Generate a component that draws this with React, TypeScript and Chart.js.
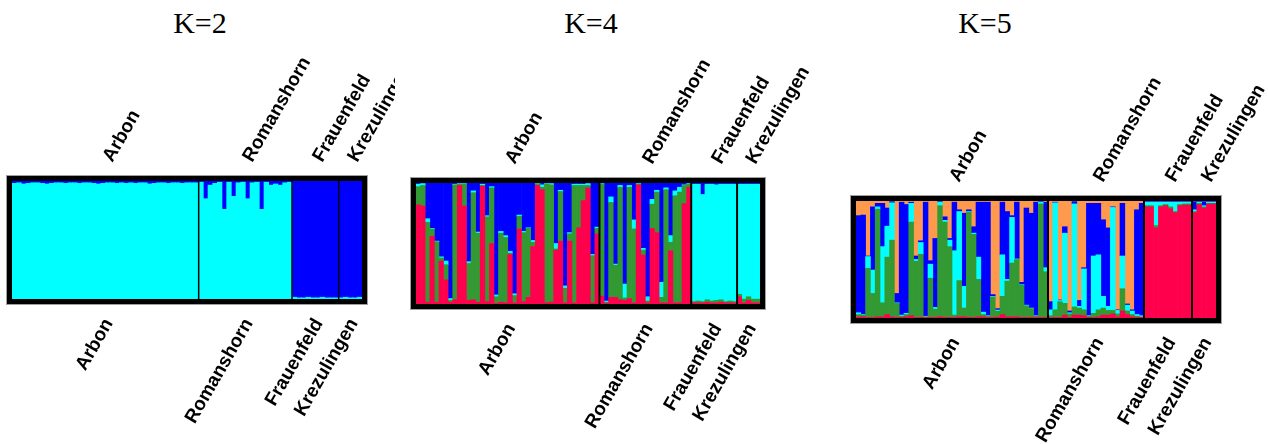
import React, { useEffect, useRef } from "react";
import { Chart, registerables } from "chart.js";

Chart.register(...registerables);

// ---------- populations ----------
const populations = ["Arbon", "Romanshorn", "Frauenfeld", "Krezulingen"];
const populationSizes = [40, 20, 10, 5];
const kTitles = ["K=2", "K=4", "K=5"];

// ---------- K=2 (bottom -> top: cyan, blue) ----------
const k2Cyan = [
  0.98, 0.985, 0.975, 0.98, 0.985, 0.985, 0.98, 0.975, 0.98, 0.985,
  0.985, 0.98, 0.985, 0.985, 0.98, 0.985, 0.985, 0.98, 0.975, 0.98,
  0.985, 0.985, 0.98, 0.985, 0.98, 0.985, 0.98, 0.985, 0.985, 0.975,
  0.98, 0.985, 0.985, 0.98, 0.985, 0.985, 0.98, 0.985, 0.985, 0.985,
  0.99, 0.85, 0.965, 0.98, 0.99, 0.76, 0.99, 0.87, 0.985, 0.99,
  0.85, 0.985, 0.99, 0.76, 0.99, 0.965, 0.975, 0.965, 0.985, 0.99,
  0.015, 0.01, 0.01, 0.015, 0.01, 0.01, 0.015, 0.01, 0.01, 0.01,
  0.01, 0.015, 0.01, 0.01, 0.015,
];
const k2Blue = [
  0.02, 0.015, 0.025, 0.02, 0.015, 0.015, 0.02, 0.025, 0.02, 0.015,
  0.015, 0.02, 0.015, 0.015, 0.02, 0.015, 0.015, 0.02, 0.025, 0.02,
  0.015, 0.015, 0.02, 0.015, 0.02, 0.015, 0.02, 0.015, 0.015, 0.025,
  0.02, 0.015, 0.015, 0.02, 0.015, 0.015, 0.02, 0.015, 0.015, 0.015,
  0.01, 0.15, 0.035, 0.02, 0.01, 0.24, 0.01, 0.13, 0.015, 0.01,
  0.15, 0.015, 0.01, 0.24, 0.01, 0.035, 0.025, 0.035, 0.015, 0.01,
  0.985, 0.99, 0.99, 0.985, 0.99, 0.99, 0.985, 0.99, 0.99, 0.99,
  0.99, 0.985, 0.99, 0.99, 0.985,
];

// ---------- K=4 (bottom -> top: red, green, cyan, blue) ----------
const k4Red = [
  0.82, 0.81, 0.015, 0.56, 0.015, 0.355, 0.2, 0.015, 0.035, 0.98,
  0.81, 0.03, 0.035, 0.015, 0.975, 0.02, 0.5, 0.005, 0.015, 0.01,
  0.41, 0.01, 0.62, 0.02, 0.055, 0.475, 0.98, 0.945, 0.01, 0.015,
  0.445, 0.52, 0.01, 0.52, 0.01, 0.63, 0.855, 0.96, 0.01, 0.58,
  0.065, 0.005, 0.055, 0.055, 0.035, 0.03, 0.045, 0.01, 0.985, 0.405,
  0.01, 0.625, 0.59, 0.01, 0.01, 0.44, 0.01, 0.01, 0.83, 0.965,
  0.01, 0.01, 0.01, 0.015, 0.01, 0.01, 0.015, 0.01, 0.01, 0.01,
  0.06, 0.01, 0.03, 0.01, 0.01,
];
const k4Green = [
  0.15, 0.17, 0.66, 0.06, 0.5, 0.025, 0.125, 0.015, 0.95, 0.01,
  0.18, 0.305, 0.885, 0.57, 0.005, 0.7, 0.46, 0.055, 0.57, 0.54,
  0.01, 0.06, 0.105, 0.57, 0.57, 0.035, 0.015, 0.02, 0.98, 0.97,
  0.01, 0.41, 0.12, 0.06, 0.97, 0.35, 0.125, 0.02, 0.39, 0.045,
  0.925, 0.01, 0.785, 0.265, 0.93, 0.02, 0.92, 0.61, 0.005, 0.04,
  0.015, 0.2, 0.335, 0.045, 0.935, 0.07, 0.885, 0.915, 0.15, 0.025,
  0.01, 0.015, 0.01, 0.02, 0.015, 0.02, 0.02, 0.01, 0.015, 0.01,
  0.02, 0.03, 0.03, 0.03, 0.03,
];
const k4Cyan = [
  0.02, 0.015, 0.03, 0.005, 0.005, 0.01, 0.03, 0.015, 0.005, 0.005,
  0.005, 0.015, 0.015, 0.01, 0.01, 0.01, 0.01, 0.015, 0.015, 0.015,
  0.015, 0.015, 0.01, 0.01, 0.005, 0.015, 0.003, 0.02, 0.005, 0.01,
  0.045, 0.01, 0.02, 0.01, 0.01, 0.01, 0.01, 0.015, 0.01, 0.01,
  0.005, 0.01, 0.045, 0.01, 0.015, 0.115, 0.015, 0.075, 0.005, 0.015,
  0.035, 0.04, 0.015, 0.125, 0.015, 0.055, 0.04, 0.04, 0.005, 0.005,
  0.97, 0.965, 0.885, 0.955, 0.965, 0.955, 0.955, 0.97, 0.965, 0.97,
  0.91, 0.95, 0.93, 0.95, 0.95,
];
const k4Blue = [
  0.01, 0.005, 0.295, 0.375, 0.48, 0.61, 0.645, 0.955, 0.01, 0.005,
  0.005, 0.65, 0.065, 0.405, 0.01, 0.27, 0.03, 0.925, 0.4, 0.435,
  0.565, 0.915, 0.265, 0.4, 0.37, 0.475, 0.002, 0.015, 0.005, 0.005,
  0.5, 0.06, 0.85, 0.41, 0.01, 0.01, 0.01, 0.005, 0.59, 0.365,
  0.005, 0.975, 0.115, 0.67, 0.02, 0.835, 0.02, 0.305, 0.005, 0.54,
  0.94, 0.135, 0.06, 0.82, 0.04, 0.435, 0.065, 0.035, 0.015, 0.005,
  0.01, 0.01, 0.095, 0.01, 0.01, 0.015, 0.01, 0.01, 0.01, 0.01,
  0.01, 0.01, 0.01, 0.01, 0.01,
];

// ---------- K=5 (bottom -> top: red, green, cyan, blue, orange) ----------
const k5Red = [
  0.01, 0.01, 0.005, 0.005, 0.01, 0.01, 0.03, 0.01, 0.005, 0.005,
  0.01, 0.02, 0.005, 0.005, 0.005, 0.005, 0.005, 0.01, 0.005, 0.005,
  0.005, 0.01, 0.01, 0.005, 0.005, 0.01, 0.01, 0.005, 0.005, 0.008,
  0.03, 0.01, 0.01, 0.01, 0.005, 0.005, 0.005, 0.005, 0.005, 0.005,
  0.005, 0.005, 0.005, 0.025, 0.005, 0.025, 0.025, 0.02, 0.005, 0.005,
  0.01, 0.025, 0.025, 0.035, 0.01, 0.06, 0.03, 0.01, 0.005, 0.005,
  0.95, 0.95, 0.77, 0.95, 0.96, 0.935, 0.9, 0.96, 0.965, 0.965,
  0.9, 0.97, 0.94, 0.975, 0.975,
];
const k5Green = [
  0.02, 0.015, 0.42, 0.205, 0.92, 0.12, 0.49, 0.655, 0.12, 0.01,
  0.02, 0.8, 0.48, 0.54, 0.005, 0.335, 0.07, 0.95, 0.815, 0.605,
  0.02, 0.31, 0.075, 0.9, 0.71, 0.32, 0.02, 0.01, 0.175, 0.05,
  0.155, 0.305, 0.46, 0.49, 0.275, 0.1, 0.075, 0.01, 0.97, 0.39,
  0.015, 0.065, 0.135, 0.1, 0.03, 0.07, 0.06, 0.05, 0.01, 0.035,
  0.06, 0.06, 0.04, 0.03, 0.025, 0.19, 0.03, 0.02, 0.01, 0.005,
  0.01, 0.01, 0.02, 0.01, 0.01, 0.015, 0.01, 0.01, 0.01, 0.01,
  0.01, 0.01, 0.01, 0.005, 0.005,
];
const k5Cyan = [
  0.015, 0.005, 0.1, 0.2, 0.02, 0.48, 0.265, 0.32, 0.005, 0.01,
  0.01, 0.16, 0.015, 0.1, 0.005, 0.12, 0.015, 0.03, 0.015, 0.055,
  0.55, 0.59, 0.185, 0.005, 0.01, 0.19, 0.02, 0.005, 0.005, 0.01,
  0.355, 0.015, 0.39, 0.005, 0.005, 0.005, 0.005, 0.005, 0.015, 0.035,
  0.05, 0.915, 0.01, 0.6, 0.01, 0.88, 0.015, 0.35, 0.005, 0.49,
  0.47, 0.1, 0.035, 0.88, 0.03, 0.28, 0.05, 0.03, 0.015, 0.01,
  0.03, 0.03, 0.2, 0.03, 0.02, 0.04, 0.08, 0.02, 0.015, 0.015,
  0.015, 0.01, 0.01, 0.01, 0.01,
];
const k5Blue = [
  0.83, 0.85, 0.005, 0.54, 0.03, 0.37, 0.155, 0.01, 0.08, 0.965,
  0.93, 0.01, 0.03, 0.015, 0.975, 0.03, 0.59, 0.005, 0.03, 0.015,
  0.415, 0.015, 0.625, 0.015, 0.055, 0.47, 0.94, 0.97, 0.015, 0.012,
  0.45, 0.58, 0.015, 0.485, 0.02, 0.83, 0.81, 0.97, 0.005, 0.56,
  0.07, 0.005, 0.005, 0.055, 0.015, 0.02, 0.05, 0.01, 0.96, 0.45,
  0.44, 0.655, 0.67, 0.005, 0.005, 0.45, 0.01, 0.01, 0.895, 0.96,
  0.005, 0.005, 0.005, 0.005, 0.005, 0.005, 0.005, 0.005, 0.005, 0.005,
  0.07, 0.005, 0.035, 0.005, 0.005,
];
const k5Orange = [
  0.125, 0.12, 0.47, 0.05, 0.02, 0.02, 0.06, 0.005, 0.79, 0.01,
  0.03, 0.01, 0.47, 0.34, 0.01, 0.51, 0.32, 0.005, 0.135, 0.32,
  0.01, 0.075, 0.105, 0.075, 0.22, 0.01, 0.01, 0.01, 0.8, 0.92,
  0.01, 0.09, 0.125, 0.01, 0.695, 0.06, 0.105, 0.01, 0.005, 0.01,
  0.86, 0.01, 0.85, 0.22, 0.94, 0.005, 0.85, 0.57, 0.02, 0.02,
  0.02, 0.16, 0.23, 0.05, 0.93, 0.02, 0.88, 0.93, 0.075, 0.02,
  0.005, 0.005, 0.005, 0.005, 0.005, 0.005, 0.005, 0.005, 0.005, 0.005,
  0.005, 0.005, 0.005, 0.005, 0.005,
];

// ---------- derived helpers ----------
const N = populationSizes.reduce((a, b) => a + b, 0);
const individuals = Array.from({ length: N }, (_, i) => String(i + 1));
const popStarts = populationSizes.map((_, i) =>
  populationSizes.slice(0, i).reduce((a, b) => a + b, 0)
);

const CYAN = "#00ffff";
const BLUE = "#0000ff";
const RED = "#ff004d";
const GREEN = "#339933";
const ORANGE = "#ff994d";

const LABEL_FONT = "bold 19px 'Liberation Sans', Arial, sans-serif";
const ROT = -Math.PI / 3;

// dividers between populations, frame and rotated population labels,
// all positioned through the bar chart's own x scale
const structurePlugin = {
  id: "structure",
  afterDatasetsDraw(chart: any, _args: any, opts: any) {
    const { ctx, chartArea: a } = chart;
    const x = chart.scales.x;
    ctx.save();
    ctx.strokeStyle = "#000";
    ctx.lineWidth = opts.dividerWidth;
    popStarts.slice(1).forEach((s) => {
      const px = (x.getPixelForValue(s - 1) + x.getPixelForValue(s)) / 2;
      ctx.beginPath();
      ctx.moveTo(px, a.top);
      ctx.lineTo(px, a.bottom);
      ctx.stroke();
    });
    ctx.restore();
  },
  afterDraw(chart: any) {
    const { ctx, chartArea: a } = chart;
    const x = chart.scales.x;
    ctx.save();
    ctx.strokeStyle = "#000";
    ctx.lineWidth = 5;
    ctx.strokeRect(a.left - 2.5, a.top - 2.5, a.right - a.left + 5, a.bottom - a.top + 5);
    ctx.strokeStyle = "#a0a0a0";
    ctx.lineWidth = 1;
    ctx.strokeRect(a.left - 5.5, a.top - 5.5, a.right - a.left + 11, a.bottom - a.top + 11);

    ctx.fillStyle = "#000";
    ctx.font = LABEL_FONT;
    ctx.textBaseline = "alphabetic";
    populations.forEach((name, i) => {
      const s = popStarts[i];
      const e = s + populationSizes[i] - 1;
      const cx = (x.getPixelForValue(s) + x.getPixelForValue(e)) / 2;
      // upper label, reading upward from its start
      ctx.save();
      ctx.translate(cx + 7, a.top - 18);
      ctx.rotate(ROT);
      ctx.textAlign = "left";
      ctx.fillText(name, 0, 0);
      ctx.restore();
      // lower label, ending just under the frame
      ctx.save();
      ctx.translate(cx + 8, a.bottom + 24);
      ctx.rotate(ROT);
      ctx.textAlign = "right";
      ctx.fillText(name, 0, 0);
      ctx.restore();
    });
    ctx.restore();
  },
};

type Series = { name: string; data: number[]; color: string };
type PanelProps = {
  left: number;
  top: number;
  width: number;
  height: number;
  padLeft: number;
  padRight: number;
  padTop: number;
  padBottom: number;
  series: Series[];
  dividerWidth: number;
};

function Panel(p: PanelProps) {
  const ref = useRef<HTMLCanvasElement>(null);
  useEffect(() => {
    if (!ref.current) return;
    const totals = individuals.map((_, i) =>
      p.series.reduce((s, d) => s + d.data[i], 0)
    );
    const chart = new Chart(ref.current, {
      type: "bar",
      data: {
        labels: individuals,
        datasets: p.series.map((s) => ({
          label: s.name,
          data: s.data.map((v, i) => v / totals[i]),
          backgroundColor: s.color,
          borderWidth: 0,
          barPercentage: 1,
          categoryPercentage: 1,
          stack: "q",
        })),
      },
      options: {
        animation: false,
        responsive: false,
        devicePixelRatio: 1,
        events: [],
        layout: {
          padding: { left: p.padLeft, right: p.padRight, top: p.padTop, bottom: p.padBottom },
        },
        plugins: {
          legend: { display: false },
          tooltip: { enabled: false },
          structure: { dividerWidth: p.dividerWidth },
        } as any,
        scales: {
          x: { stacked: true, display: false },
          y: { stacked: true, display: false, min: 0, max: 1 },
        },
      },
      plugins: [structurePlugin],
    });
    return () => chart.destroy();
  }, []);
  return (
    <canvas
      ref={ref}
      width={p.width}
      height={p.height}
      style={{ position: "absolute", left: p.left, top: p.top, width: p.width, height: p.height }}
    />
  );
}

const titleCenters = [200, 591, 985];

export default function App() {
  return (
    <div
      style={{
        position: "absolute",
        left: 0,
        top: 0,
        width: 1268,
        height: 444,
        overflow: "hidden",
        background: "#fff",
      }}
    >
      {kTitles.map((t, i) => (
        <div
          key={t}
          style={{
            position: "absolute",
            left: titleCenters[i] - 60,
            top: 8,
            width: 120,
            textAlign: "center",
            fontFamily: "'Liberation Serif', 'Times New Roman', serif",
            fontSize: 30,
            lineHeight: "30px",
            color: "#000",
          }}
        >
          {t}
        </div>
      ))}
      <Panel
        left={0}
        top={40}
        width={395}
        height={404}
        padLeft={12}
        padRight={33}
        padTop={141}
        padBottom={145}
        dividerWidth={1.5}
        series={[
          { name: "Cluster 1", data: k2Cyan, color: CYAN },
          { name: "Cluster 2", data: k2Blue, color: BLUE },
        ]}
      />
      <Panel
        left={400}
        top={60}
        width={420}
        height={384}
        padLeft={16}
        padRight={60}
        padTop={123}
        padBottom={140}
        dividerWidth={2}
        series={[
          { name: "Cluster 1", data: k4Red, color: RED },
          { name: "Cluster 2", data: k4Green, color: GREEN },
          { name: "Cluster 3", data: k4Cyan, color: CYAN },
          { name: "Cluster 4", data: k4Blue, color: BLUE },
        ]}
      />
      <Panel
        left={840}
        top={40}
        width={428}
        height={404}
        padLeft={16}
        padRight={52}
        padTop={161}
        padBottom={126}
        dividerWidth={2}
        series={[
          { name: "Cluster 1", data: k5Red, color: RED },
          { name: "Cluster 2", data: k5Green, color: GREEN },
          { name: "Cluster 3", data: k5Cyan, color: CYAN },
          { name: "Cluster 4", data: k5Blue, color: BLUE },
          { name: "Cluster 5", data: k5Orange, color: ORANGE },
        ]}
      />
    </div>
  );
}
